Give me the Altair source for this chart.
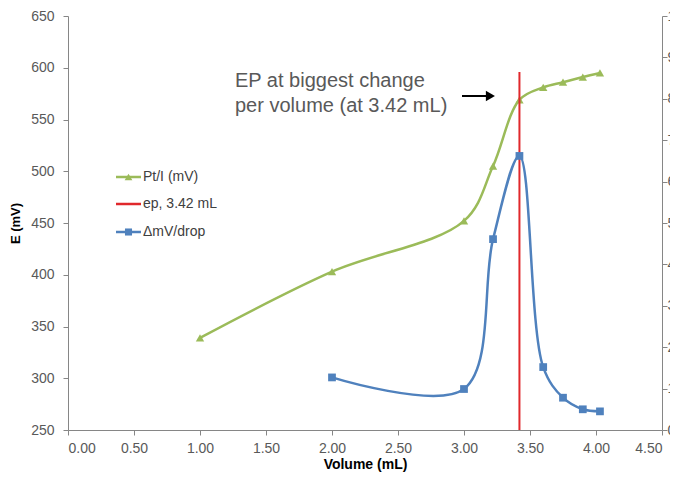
import altair as alt
import pandas as pd

# ---- data ----
vol_e = [1.00, 2.00, 3.00, 3.22, 3.42, 3.60, 3.75, 3.90, 4.03]
e_mv = [339, 403, 452, 505, 569, 581, 586, 591, 595]

vol_d = [2.00, 3.00, 3.22, 3.42, 3.60, 3.75, 3.90, 4.03]
dmv_drop = [12.7, 9.9, 46.1, 66.2, 15.2, 7.8, 5.0, 4.5]

ep_x = [3.42]
ep_y = [250]
ep_y2 = [596]

x_ticks = [0.0, 0.5, 1.0, 1.5, 2.0, 2.5, 3.0, 3.5, 4.0, 4.5]
y_ticks = [250, 300, 350, 400, 450, 500, 550, 600, 650]
y2_ticks = [0, 10, 20, 30, 40, 50, 60, 70, 80, 90, 100]

series_names = ["Pt/I (mV)", "ep, 3.42 mL", "\u0394mV/drop"]
series_colors = ["#9BBB59", "#E0282C", "#4F81BD"]

note_lines = ["EP at biggest change", "per volume (at 3.42 mL)"]
note_x = [1.265, 1.265]
note_y = [587.2, 563.0]
arrow_x = [2.985]
arrow_x2 = [3.20]
arrow_y = [572.7]

# ---- tables ----
df_e = pd.DataFrame({"v": vol_e, "e": e_mv})
df_d = pd.DataFrame({"v": vol_d, "d": dmv_drop})
df_ep = pd.DataFrame({"v": ep_x, "e": ep_y, "e2": ep_y2})
df_note = pd.DataFrame({"v": note_x, "e": note_y, "t": note_lines})
df_arrow = pd.DataFrame({"v": arrow_x, "v2": arrow_x2, "e": arrow_y})

GREY = "#868686"
LBL = "#595959"
FONT = "Liberation Sans"

xscale = alt.Scale(domain=[0, 4.5], nice=False, zero=False)
yscale = alt.Scale(domain=[250, 650], nice=False, zero=False)
y2scale = alt.Scale(domain=[0, 100], nice=False, zero=False)

xaxis = alt.Axis(values=x_ticks, format=".2f", title="Volume (mL)", grid=False,
                 domainColor=GREY, tickColor=GREY, tickSize=5, labelColor=LBL,
                 labelFont=FONT, labelFontSize=14, labelPadding=6,
                 titleFont=FONT, titleFontSize=14, titleFontWeight="bold",
                 titleColor="#000000", titlePadding=2)
yaxis = alt.Axis(values=y_ticks, title="E (mV)", grid=False, orient="left",
                 domainColor=GREY, tickColor=GREY, tickSize=5, labelColor=LBL,
                 labelFont=FONT, labelFontSize=14, labelPadding=9,
                 titleFont=FONT, titleFontSize=13, titleFontWeight="bold",
                 titleColor="#000000", titlePadding=8)
# right axis: labels run past the chart's right edge, as in the reference
y2axis = alt.Axis(values=y2_ticks, title=None, grid=False, orient="right",
                  domainColor=GREY, tickColor=GREY, tickSize=5, labelColor=LBL,
                  labelFont=FONT, labelFontSize=14, labelPadding=0)

X = alt.X("v:Q", scale=xscale, axis=xaxis)
Y = alt.Y("e:Q", scale=yscale, axis=yaxis)

green_line = alt.Chart(df_e).mark_line(
    color=series_colors[0], strokeWidth=2.5, interpolate="catmull-rom"
).encode(x=X, y=Y)
green_pts = alt.Chart(df_e).mark_point(
    shape="triangle-up", filled=True, opacity=1, size=70, color=series_colors[0]
).encode(x=X, y=Y)

ep_rule = alt.Chart(df_ep).mark_rule(color=series_colors[1], strokeWidth=2).encode(
    x=X, y=Y, y2="e2:Q")

note = alt.Chart(df_note).mark_text(
    align="left", baseline="middle", font=FONT, fontSize=20, color=LBL
).encode(x=X, y=Y, text="t:N")

arrow_line = alt.Chart(df_arrow).mark_rule(color="#000000", strokeWidth=2).encode(
    x=X, x2="v2:Q", y=Y)
arrow_head = alt.Chart(df_arrow).mark_point(
    shape="triangle-right", filled=True, opacity=1, size=110, color="#000000"
).encode(x=alt.X("v2:Q", scale=xscale, axis=xaxis), y=Y)

# legend (drawn by hand, labels from series_names)
leg_layers = []
row_y = [161, 188, 216]
marker_shapes = ["triangle-up", None, "square"]
for name, col, ry, shp in zip(series_names, series_colors, row_y, marker_shapes):
    d = pd.DataFrame({"label": [name]})
    leg_layers.append(alt.Chart(d).mark_rule(color=col, strokeWidth=2.5).encode(
        x=alt.value(48), x2=alt.value(73), y=alt.value(ry)))
    if shp:
        leg_layers.append(alt.Chart(d).mark_point(
            shape=shp, filled=True, opacity=1, size=60 if shp != "square" else 50,
            color=col).encode(x=alt.value(60.5), y=alt.value(ry)))
    leg_layers.append(alt.Chart(d).mark_text(
        align="left", baseline="middle", font=FONT, fontSize=14, color="#404040"
    ).encode(x=alt.value(75), y=alt.value(ry), text="label:N"))

left = alt.layer(green_line, green_pts, ep_rule, note, arrow_line, arrow_head, *leg_layers)

Y2 = alt.Y("d:Q", scale=y2scale, axis=y2axis)
blue_line = alt.Chart(df_d).mark_line(
    color=series_colors[2], strokeWidth=2.5, interpolate="catmull-rom"
).encode(x=X, y=Y2)
blue_pts = alt.Chart(df_d).mark_point(
    shape="square", filled=True, opacity=1, size=60, color=series_colors[2]
).encode(x=X, y=Y2)
right = alt.layer(blue_line, blue_pts)

chart = alt.layer(left, right).resolve_scale(y="independent").properties(
    width=594, height=414,
    autosize=alt.AutoSizeParams(type="none"),
    padding={"left": 60, "top": 8, "right": 8, "bottom": 42},
    background="#ffffff",
).configure_view(stroke=None)

chart.save("out.html", embed_options={"renderer": "svg", "actions": False})
